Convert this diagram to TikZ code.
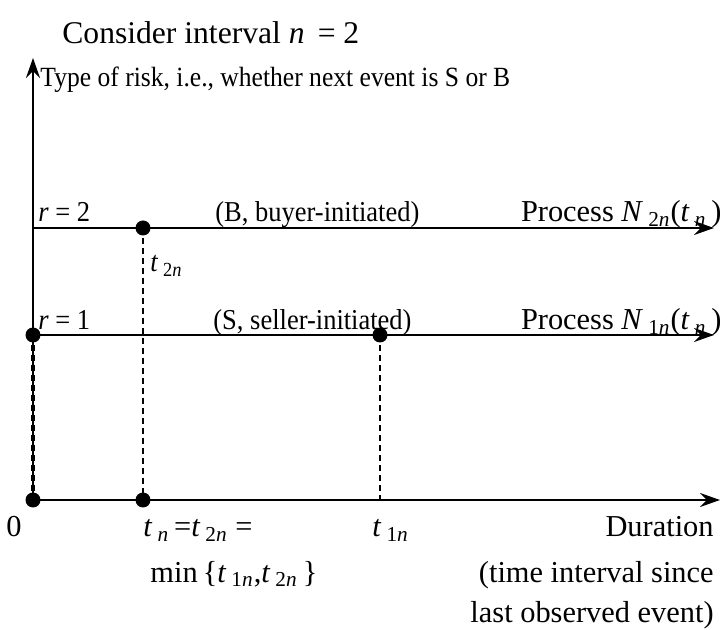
\documentclass[tikz,border=0pt]{standalone}
\usepackage{fontspec}
\setmainfont{Liberation Serif}
\newfontfamily\cond{Liberation Serif}[FakeStretch=0.92]
\usetikzlibrary{arrows.meta}
\newcommand{\iv}[1]{\textit{#1}}
\newcommand{\sbs}[1]{\textsubscript{#1}}
\begin{document}
\begin{tikzpicture}[x=0.5pt,y=-0.5pt,
  axis/.style={line width=1.4pt},
  arr/.style={axis,-{Stealth[length=10pt,width=7pt,inset=3.5pt]}},
  dsh/.style={line width=0.9pt,dash pattern=on 3pt off 2pt},
  dot/.style={circle,fill=black,inner sep=0pt,minimum size=7.5pt},
  lbl/.style={inner sep=0pt,font=\cond\fontsize{14.4}{17}\selectfont},
  big/.style={inner sep=0pt,font=\fontsize{15.2}{18}\selectfont}]
\useasboundingbox (0,0) rectangle (723,630);
% points
\node[dot] (d0a) at (33,500) {};
\node[dot] (d0b) at (143,500) {};
\node[dot] (d1a) at (33,335) {};
\node[dot] (d1b) at (380,335) {};
\node[dot] (d2) at (143,228) {};
\coordinate (ytip) at (33,58);
\coordinate (xtip) at (720,500);
\coordinate (r2s) at (33,228);
\coordinate (r2e) at (714,228);
\coordinate (r1e) at (714,335);
\coordinate (b1) at (380,500);
% axes
\draw[arr] (d0a.center) -- (ytip);
\draw[arr] (d0a.center) -- (xtip);
\draw[arr] (r2s) -- (r2e);
\draw[arr] (d1a.center) -- (r1e);
% dashed drops
\draw[dsh] (d2.center) -- (d0b.center);
\draw[dsh] (d1b.center) -- (b1);
\draw[dsh,line width=1.6pt] (d1a.center) -- (d0a.center);
% labels
\node[big,anchor=base west,font=\fontsize{15.8}{18}\selectfont] (title) at (62,44) {Consider interval \iv{n}\, = 2};
\node[lbl,anchor=base west,font=\cond\fontsize{13.9}{16}\selectfont] (ylab) at (40,87) {Type of risk, i.e., whether next event is S or B};
\node[lbl,anchor=base west] (r2) at (38,222) {\iv{r} = 2};
\node[lbl,anchor=base west] (bb) at (215,222) {(B, buyer-initiated)};
\node[big,anchor=base east] (p2) at (722,222) {Process \iv{N}\,\sbs{2\iv{n}}(\iv{t}\,\sbs{\iv{n}}\,)};
\node[lbl,anchor=base west] (t2) at (150,272) {\iv{t}\,\sbs{2\iv{n}}};
\node[lbl,anchor=base west] (r1) at (38,330) {\iv{r} = 1};
\node[lbl,anchor=base west] (ss) at (213,330) {(S, seller-initiated)};
\node[big,anchor=base east] (p1) at (722,330) {Process \iv{N}\,\sbs{1\iv{n}}(\iv{t}\,\sbs{\iv{n}}\,)};
\node[big,anchor=base west] (zero) at (6,537) {0};
\node[big,anchor=base west] (tn) at (143,537) {\iv{t}\,\sbs{\iv{n}}\,=\iv{t}\,\sbs{2\iv{n}} =};
\node[big,anchor=base west] (t1) at (372,537) {\iv{t}\,\sbs{1\iv{n}}};
\node[big,anchor=base east] (dur) at (714,537) {Duration};
\node[big,anchor=base west] (mn) at (150,582) {min\,\{\iv{t}\,\sbs{1\iv{n}},\iv{t}\,\sbs{2\iv{n}}\,\}};
\node[big,anchor=base east] (ti) at (714,582) {(time interval since};
\node[big,anchor=base east] (lo) at (714,622) {last observed event)};
\end{tikzpicture}
\end{document}
